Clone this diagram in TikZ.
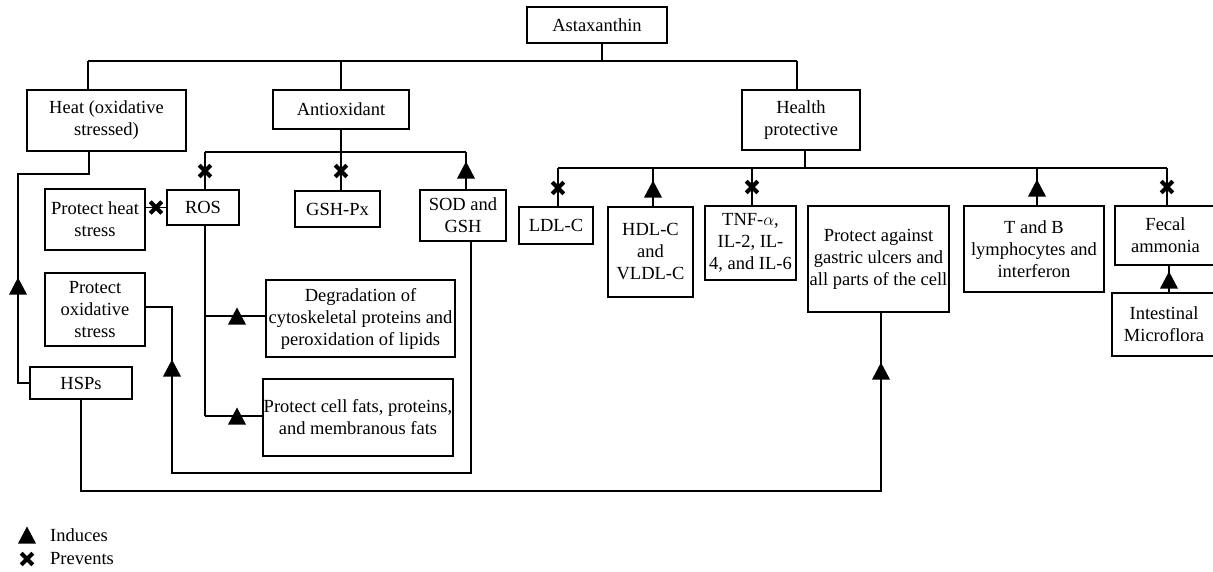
\documentclass[tikz,border=0pt]{standalone}
\usepackage{fontspec}
\setmainfont{Liberation Serif}
\begin{document}
\begin{tikzpicture}[x=1pt,y=-1pt,
  box/.style={draw, line width=1.3pt, inner sep=0pt, align=center, font=\fontsize{18.5}{22}\selectfont},
  conn/.style={line width=1.3pt},
  lbl/.style={anchor=west, inner sep=0pt, font=\fontsize{18.5}{22}\selectfont},
  induce/.pic={\fill (-9,8.5) -- (9,8.5) -- (0,-8.5) -- cycle;},
  prevent/.pic={\draw[line width=4pt] (-5.8,-5.8) -- (5.8,5.8) (-5.8,5.8) -- (5.8,-5.8);}
]
\useasboundingbox (0,0) rectangle (1213,571);
\clip (0,0) rectangle (1213,571);

% boxes
\node[box, minimum width=140, minimum height=36] (asta) at (597,25) {Astaxanthin};
\node[box, minimum width=159, minimum height=61] (heat) at (106.5,120.5) {Heat (oxidative\\stressed)};
\node[box, minimum width=136, minimum height=39] (anti) at (341,109.5) {Antioxidant};
\node[box, minimum width=118, minimum height=60] (health) at (801,120) {Health\\protective};
\node[box, minimum width=72, minimum height=35] (ros) at (203,207.5) {ROS};
\node[box, minimum width=85, minimum height=36] (gshpx) at (337.5,209) {GSH-Px};
\node[box, minimum width=86, minimum height=51] (sod) at (463,215.5) {SOD and\\GSH};
\node[box, minimum width=100, minimum height=61] (pheat) at (95,219.5) {Protect heat\\stress};
\node[box, minimum width=100, minimum height=73] (pox) at (95,309.5) {Protect\\oxidative\\stress};
\node[box, minimum width=102, minimum height=32] (hsps) at (81,383) {HSPs};
\node[box, minimum width=189, minimum height=77] (degr) at (360.5,318.5) {Degradation of\\cytoskeletal proteins and\\peroxidation of lipids};
\node[box, minimum width=190, minimum height=77] (pcell) at (358,417.5) {Protect cell fats, proteins,\\and membranous fats};
\node[box, minimum width=74, minimum height=37] (ldl) at (556,225.5) {LDL-C};
\node[box, minimum width=85, minimum height=90] (hdl) at (650.5,252) {HDL-C\\and\\VLDL-C};
\node[box, minimum width=91, minimum height=74] (tnf) at (750.5,243) {TNF-$\alpha$,\\IL-2, IL-\\4, and IL-6};
\node[box, minimum width=141, minimum height=106] (pgas) at (878.5,259) {Protect against\\gastric ulcers and\\all parts of the cell};
\node[box, minimum width=140, minimum height=86] (tb) at (1034,249) {T and B\\lymphocytes and\\interferon};
\node[box, minimum width=101, minimum height=59] (fecal) at (1165.5,235.5) {Fecal\\ammonia};
\node[box, minimum width=104, minimum height=63] (intest) at (1164,324.5) {Intestinal\\Microflora};

% junction coordinates
\coordinate (tL) at (88,61);
\coordinate (tA) at (602,61);
\coordinate (tM) at (341,61);
\coordinate (tR) at (797,61);
\coordinate (aL) at (205,152);
\coordinate (aM) at (341,152);
\coordinate (aR) at (466,152);
\coordinate (h1) at (89,174);
\coordinate (h2) at (18,174);
\coordinate (r1) at (205,316);
\coordinate (r2) at (205,416);
\coordinate (p1) at (172,307);
\coordinate (p2) at (172,473);
\coordinate (p3) at (471,473);
\coordinate (q1) at (81,491);
\coordinate (q2) at (881,491);
\coordinate (hM) at (805,168);
\coordinate (hL) at (558,168);
\coordinate (hD) at (653,168);
\coordinate (hT) at (752,168);
\coordinate (hB) at (1037,168);
\coordinate (hR) at (1167,168);
\coordinate (iF) at (1169,280);

% connectors
\draw[conn] (tL) -- (tR);
\draw[conn] (asta.south -| tA) -- (tA);
\draw[conn] (tL) -- (tL |- heat.north);
\draw[conn] (tM) -- (tM |- anti.north);
\draw[conn] (tR) -- (tR |- health.north);

\draw[conn] (anti.south -| aM) -- (aM);
\draw[conn] (aL) -- (aR);
\draw[conn] (aL) -- (aL |- ros.north);
\draw[conn] (aM) -- (aM |- gshpx.north);
\draw[conn] (aR) -- (aR |- sod.north);
\draw[conn] (ros.west) -- (pheat.east |- ros.west);

\draw[conn] (heat.south -| h1) -- (h1) -- (h2) |- (hsps.west);
\draw[conn] (ros.south -| r1) -- (r2);
\draw[conn] (r1) -- (r1 -| degr.west);
\draw[conn] (r2) -- (r2 -| pcell.west);
\draw[conn] (pox.east |- p1) -- (p1) -- (p2) -- (p3) -- (p3 |- sod.south);
\draw[conn] (hsps.south -| q1) -- (q1) -- (q2) -- (q2 |- pgas.south);

\draw[conn] (health.south -| hM) -- (hM);
\draw[conn] (hL) -- (hR);
\draw[conn] (hL) -- (hL |- ldl.north);
\draw[conn] (hD) -- (hD |- hdl.north);
\draw[conn] (hT) -- (hT |- tnf.north);
\draw[conn] (hB) -- (hB |- tb.north);
\draw[conn] (hR) -- (hR |- fecal.north);
\draw[conn] (intest.north -| iF) -- (fecal.south -| iF);

% markers
\pic at (205,171) {prevent};
\pic at (341,171) {prevent};
\pic at (466,170) {induce};
\pic at (156,207.5) {prevent};
\pic at (18,286) {induce};
\pic at (237,316) {induce};
\pic at (237,416) {induce};
\pic at (172,368) {induce};
\pic at (881,371) {induce};
\pic at (558,188) {prevent};
\pic at (653,189) {induce};
\pic at (752,187) {prevent};
\pic at (1037,188) {induce};
\pic at (1167,187) {prevent};
\pic at (1169,280) {induce};

% legend
\pic at (27,535) {induce};
\node[lbl] (lind) at (50,535) {Induces};
\pic at (27,559) {prevent};
\node[lbl] (lprev) at (50,559) {Prevents};
\end{tikzpicture}
\end{document}
